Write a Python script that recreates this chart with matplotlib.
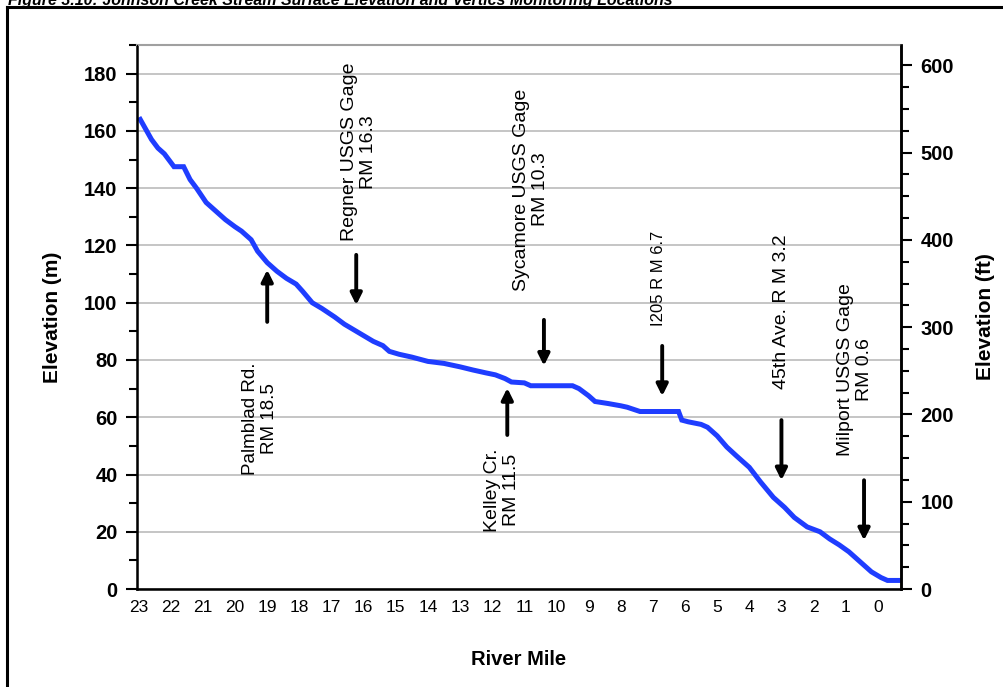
import numpy as np
import matplotlib.pyplot as plt
from matplotlib.ticker import MultipleLocator
from matplotlib.lines import Line2D

plt.rcParams['font.family'] = ['Liberation Sans', 'DejaVu Sans']

# stream profile (river mile, elevation in m)
river_mile = [22.95, 22.8, 22.6, 22.4, 22.2, 22.0, 21.9, 21.6, 21.4, 21.2, 20.9, 20.6,
              20.3, 20.0, 19.8, 19.5, 19.3, 19.0, 18.7, 18.4, 18.1, 17.9, 17.6, 17.3,
              16.9, 16.6, 16.3, 16.0, 15.7, 15.4, 15.2, 14.9, 14.5, 14.0, 13.5, 13.0,
              12.6, 12.2, 11.9, 11.6, 11.4, 11.0, 10.8, 9.5, 9.3, 9.0, 8.8, 8.4, 8.0,
              7.8, 7.4, 6.2, 6.1, 5.9, 5.5, 5.3, 5.0, 4.7, 4.4, 4.0, 3.65, 3.25, 2.9,
              2.6, 2.2, 1.8, 1.5, 1.2, 0.9, 0.5, 0.2, -0.1, -0.3, -0.7]
elev_m = [164, 161, 157, 154, 152, 149, 147.5, 147.5, 143, 140, 135, 132,
          129, 126.5, 125, 122, 118, 114, 111, 108.5, 106.5, 104, 100, 98,
          95, 92.5, 90.5, 88.5, 86.5, 85, 83, 82, 81, 79.5, 78.8, 77.6,
          76.5, 75.5, 74.8, 73.5, 72.3, 72, 71, 71, 70, 67.5, 65.5, 64.8, 64,
          63.5, 62, 62, 59, 58.4, 57.5, 56.5, 53.5, 49.6, 46.5, 42.5, 37.4, 32, 28.5,
          25, 21.7, 20, 17.5, 15.4, 13, 9, 6, 4, 3, 3]

mile_ticks = list(range(23, -1, -1))
M_TO_FT = 3.28084

# monitoring locations: label, arrow mile, tail elev, head elev, text mile, text elev
labels = ["Palmblad Rd.\nRM 18.5", "Regner USGS Gage\nRM 16.3", "Kelley Cr.\nRM 11.5",
          "Sycamore USGS Gage\nRM 10.3", "I205 R M 6.7", "45th Ave. R M 3.2",
          "Milport USGS Gage\nRM 0.6"]
arrow_mile = [19.0, 16.23, 11.53, 10.39, 6.71, 3.0, 0.43]
arrow_tail = [93.3, 116.7, 53.8, 94.0, 84.9, 59.0, 38.0]
arrow_head = [111.5, 99.2, 70.2, 78.0, 67.4, 38.0, 17.0]
text_mile = [19.22, 16.15, 11.68, 10.78, 6.83, 3.0, 0.7]
text_elev = [59.5, 152.7, 34.5, 139.5, 108.5, 96.8, 76.5]
label_size = [13.5, 14, 14, 14, 12, 14, 14]

fig = plt.figure(figsize=(10.04, 6.87), dpi=100)
ax = fig.add_axes([0.1365, 0.1426, 0.7609, 0.7919])

ax.plot(river_mile, elev_m, color='#1f3dff', lw=3.6, solid_joinstyle='miter')

ax.set_xlim(23.05, -0.72)
ax.set_ylim(0, 190)
ax.set_xticks(mile_ticks)
ax.set_xticklabels([str(m) for m in mile_ticks], fontsize=12.5)
ax.tick_params(axis='x', length=0, pad=8)
ax.yaxis.set_major_locator(MultipleLocator(20))
ax.yaxis.set_minor_locator(MultipleLocator(10))
ax.tick_params(axis='y', which='major', length=8, width=1.5, labelsize=14.5, pad=6)
ax.tick_params(axis='y', which='minor', length=6, width=1.5)
for t in ax.get_yticklabels():
    t.set_fontweight('bold')
ax.grid(axis='y', color='#c0c0c0', lw=1.3)
ax.set_axisbelow(True)
ax.spines['top'].set_color('#a0a0a0')
ax.spines['top'].set_linewidth(1.5)
for s in ['left', 'bottom', 'right']:
    ax.spines[s].set_linewidth(1.8)

ax.set_ylabel('Elevation (m)', fontsize=15, fontweight='bold', labelpad=16)
ax.set_xlabel('River Mile', fontsize=14.5, fontweight='bold', labelpad=25)

ax2 = ax.twinx()
ax2.set_ylim(0, 190 * M_TO_FT)
ax2.yaxis.set_major_locator(MultipleLocator(100))
ax2.yaxis.set_minor_locator(MultipleLocator(25))
ax2.tick_params(axis='y', which='major', length=8, width=1.5, labelsize=14.5, pad=6)
ax2.tick_params(axis='y', which='minor', length=6, width=1.5)
for t in ax2.get_yticklabels():
    t.set_fontweight('bold')
ax2.spines['right'].set_linewidth(1.8)
ax2.spines['top'].set_visible(False)
ax2.set_ylabel('Elevation (ft)', fontsize=15, fontweight='bold', labelpad=16)

for lab, am, at, ah, tm, te, fs in zip(labels, arrow_mile, arrow_tail, arrow_head,
                                       text_mile, text_elev, label_size):
    ax.annotate('', xy=(am, ah), xytext=(am, at),
                arrowprops=dict(arrowstyle='-|>', color='black', lw=2.8, mutation_scale=17,
                                shrinkA=0, shrinkB=0))
    ax.text(tm, te, lab, rotation=90, ha='center', va='center', multialignment='center',
            fontsize=fs, linespacing=1.15, clip_on=False)

# figure caption (cut at the top edge, as in the original) and outer frame
fig.text(0.008, 1.0, 'Figure 3.10: Johnson Creek Stream Surface Elevation and Vertics Monitoring Locations',
         fontsize=11.5, fontweight='bold', fontstyle='italic', ha='left', va='center')
fig.add_artist(Line2D([0.007, 0.007], [0.0, 0.99], color='black', lw=2.2, transform=fig.transFigure))
fig.add_artist(Line2D([0.007, 1.0], [0.99, 0.99], color='black', lw=2.2, transform=fig.transFigure))

fig.savefig('out.png', dpi=100)
